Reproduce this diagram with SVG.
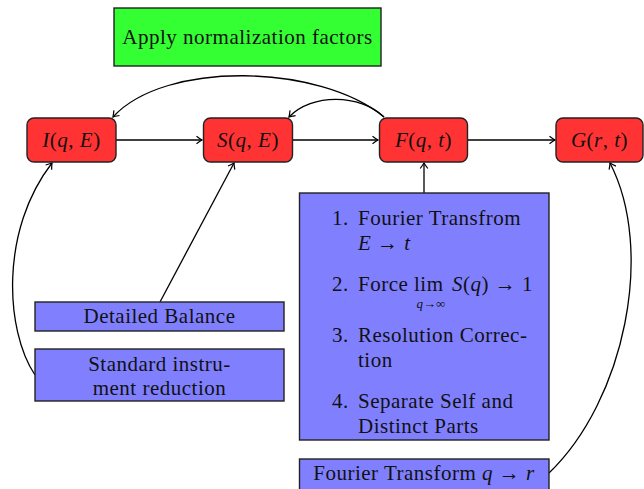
<svg xmlns="http://www.w3.org/2000/svg" width="644" height="489" viewBox="0 0 644 489">
<defs>
<marker id="arr" viewBox="-6 -5 8 10" markerWidth="8" markerHeight="10" refX="0" refY="0" orient="auto" markerUnits="userSpaceOnUse">
<path d="M-5.5,-3.8 Q-1.5,-0.8 0,0 Q-1.5,0.8 -5.5,3.8" fill="none" stroke="#000" stroke-width="1.2"/>
</marker>
<style>
text{font-family:"Liberation Serif","Times New Roman",serif;font-size:21px;letter-spacing:0.5px;fill:#111;}
.it{font-style:italic;}
.red{fill:#ff3333;stroke:#222;stroke-width:1.4;}
.blue{fill:#8080ff;stroke:#222;stroke-width:1.4;}
.green{fill:#33ff33;stroke:#222;stroke-width:1.4;}
.c{fill:none;stroke:#000;stroke-width:1.3;marker-end:url(#arr);}
.m{text-anchor:middle;}
.sub{font-size:13px;letter-spacing:0;}
</style>
</defs>
<rect width="644" height="489" fill="#fff"/>
<g id="connectors">
<path class="c" d="M116,140 H202"/>
<path class="c" d="M292,140 H378"/>
<path class="c" d="M468,140 H555"/>
<path class="c" d="M424,193 V163"/>
<path class="c" d="M384,117 C320,64 165,60 113,117"/>
<path class="c" d="M384,117 C360,94 312,93 289,117"/>
<path class="c" d="M160,302 L234,163"/>
<path class="c" d="M35,375 C5,330 0,230 52,163"/>
<path class="c" d="M549,473 C625,400 655,250 610,163"/>
</g>
<g id="norm">
<rect class="green" x="114" y="8" width="267" height="58"/>
<text class="m" x="247.5" y="44">Apply normalization factors</text>
</g>
<g id="I">
<rect class="red" x="27" y="118" width="89" height="44" rx="7"/>
<text class="m" x="71.5" y="147"><tspan class="it">I</tspan>(<tspan class="it">q</tspan>, <tspan class="it">E</tspan>)</text>
</g>
<g id="S">
<rect class="red" x="203.5" y="118" width="89" height="44" rx="7"/>
<text class="m" x="248" y="147"><tspan class="it">S</tspan>(<tspan class="it">q</tspan>, <tspan class="it">E</tspan>)</text>
</g>
<g id="F">
<rect class="red" x="379.5" y="118" width="88" height="44" rx="7"/>
<text class="m" x="423.5" y="147"><tspan class="it">F</tspan>(<tspan class="it">q</tspan>, <tspan class="it">t</tspan>)</text>
</g>
<g id="G">
<rect class="red" x="556" y="118" width="87" height="44" rx="7"/>
<text class="m" x="599.5" y="147"><tspan class="it">G</tspan>(<tspan class="it">r</tspan>, <tspan class="it">t</tspan>)</text>
</g>
<g id="steps">
<rect class="blue" x="299.5" y="193" width="249.5" height="247"/>
<text x="332" y="225">1.</text>
<text x="358" y="225">Fourier Transfrom</text>
<text x="358" y="250"><tspan class="it">E</tspan> → <tspan class="it">t</tspan></text>
<text x="332" y="291">2.</text>
<text x="358" y="291">Force</text>
<text x="414" y="291">lim</text>
<text x="452" y="291"><tspan class="it">S</tspan>(<tspan class="it">q</tspan>) → 1</text>
<text class="sub m" x="431" y="308"><tspan class="it">q</tspan>→∞</text>
<text x="332" y="342">3.</text>
<text x="358" y="342">Resolution Correc-</text>
<text x="358" y="367">tion</text>
<text x="332" y="408">4.</text>
<text x="358" y="408">Separate Self and</text>
<text x="358" y="433">Distinct Parts</text>
</g>
<g id="detailed">
<rect class="blue" x="35" y="302" width="249" height="29"/>
<text class="m" x="159.5" y="323">Detailed Balance</text>
</g>
<g id="standard">
<rect class="blue" x="35" y="349" width="249" height="52"/>
<text class="m" x="159.5" y="371">Standard instru-</text>
<text class="m" x="159.5" y="395">ment reduction</text>
</g>
<g id="fqr">
<rect class="blue" x="299.5" y="459" width="249.5" height="34"/>
<text class="m" x="424" y="480">Fourier Transform <tspan class="it">q</tspan> → <tspan class="it">r</tspan></text>
</g>
</svg>
